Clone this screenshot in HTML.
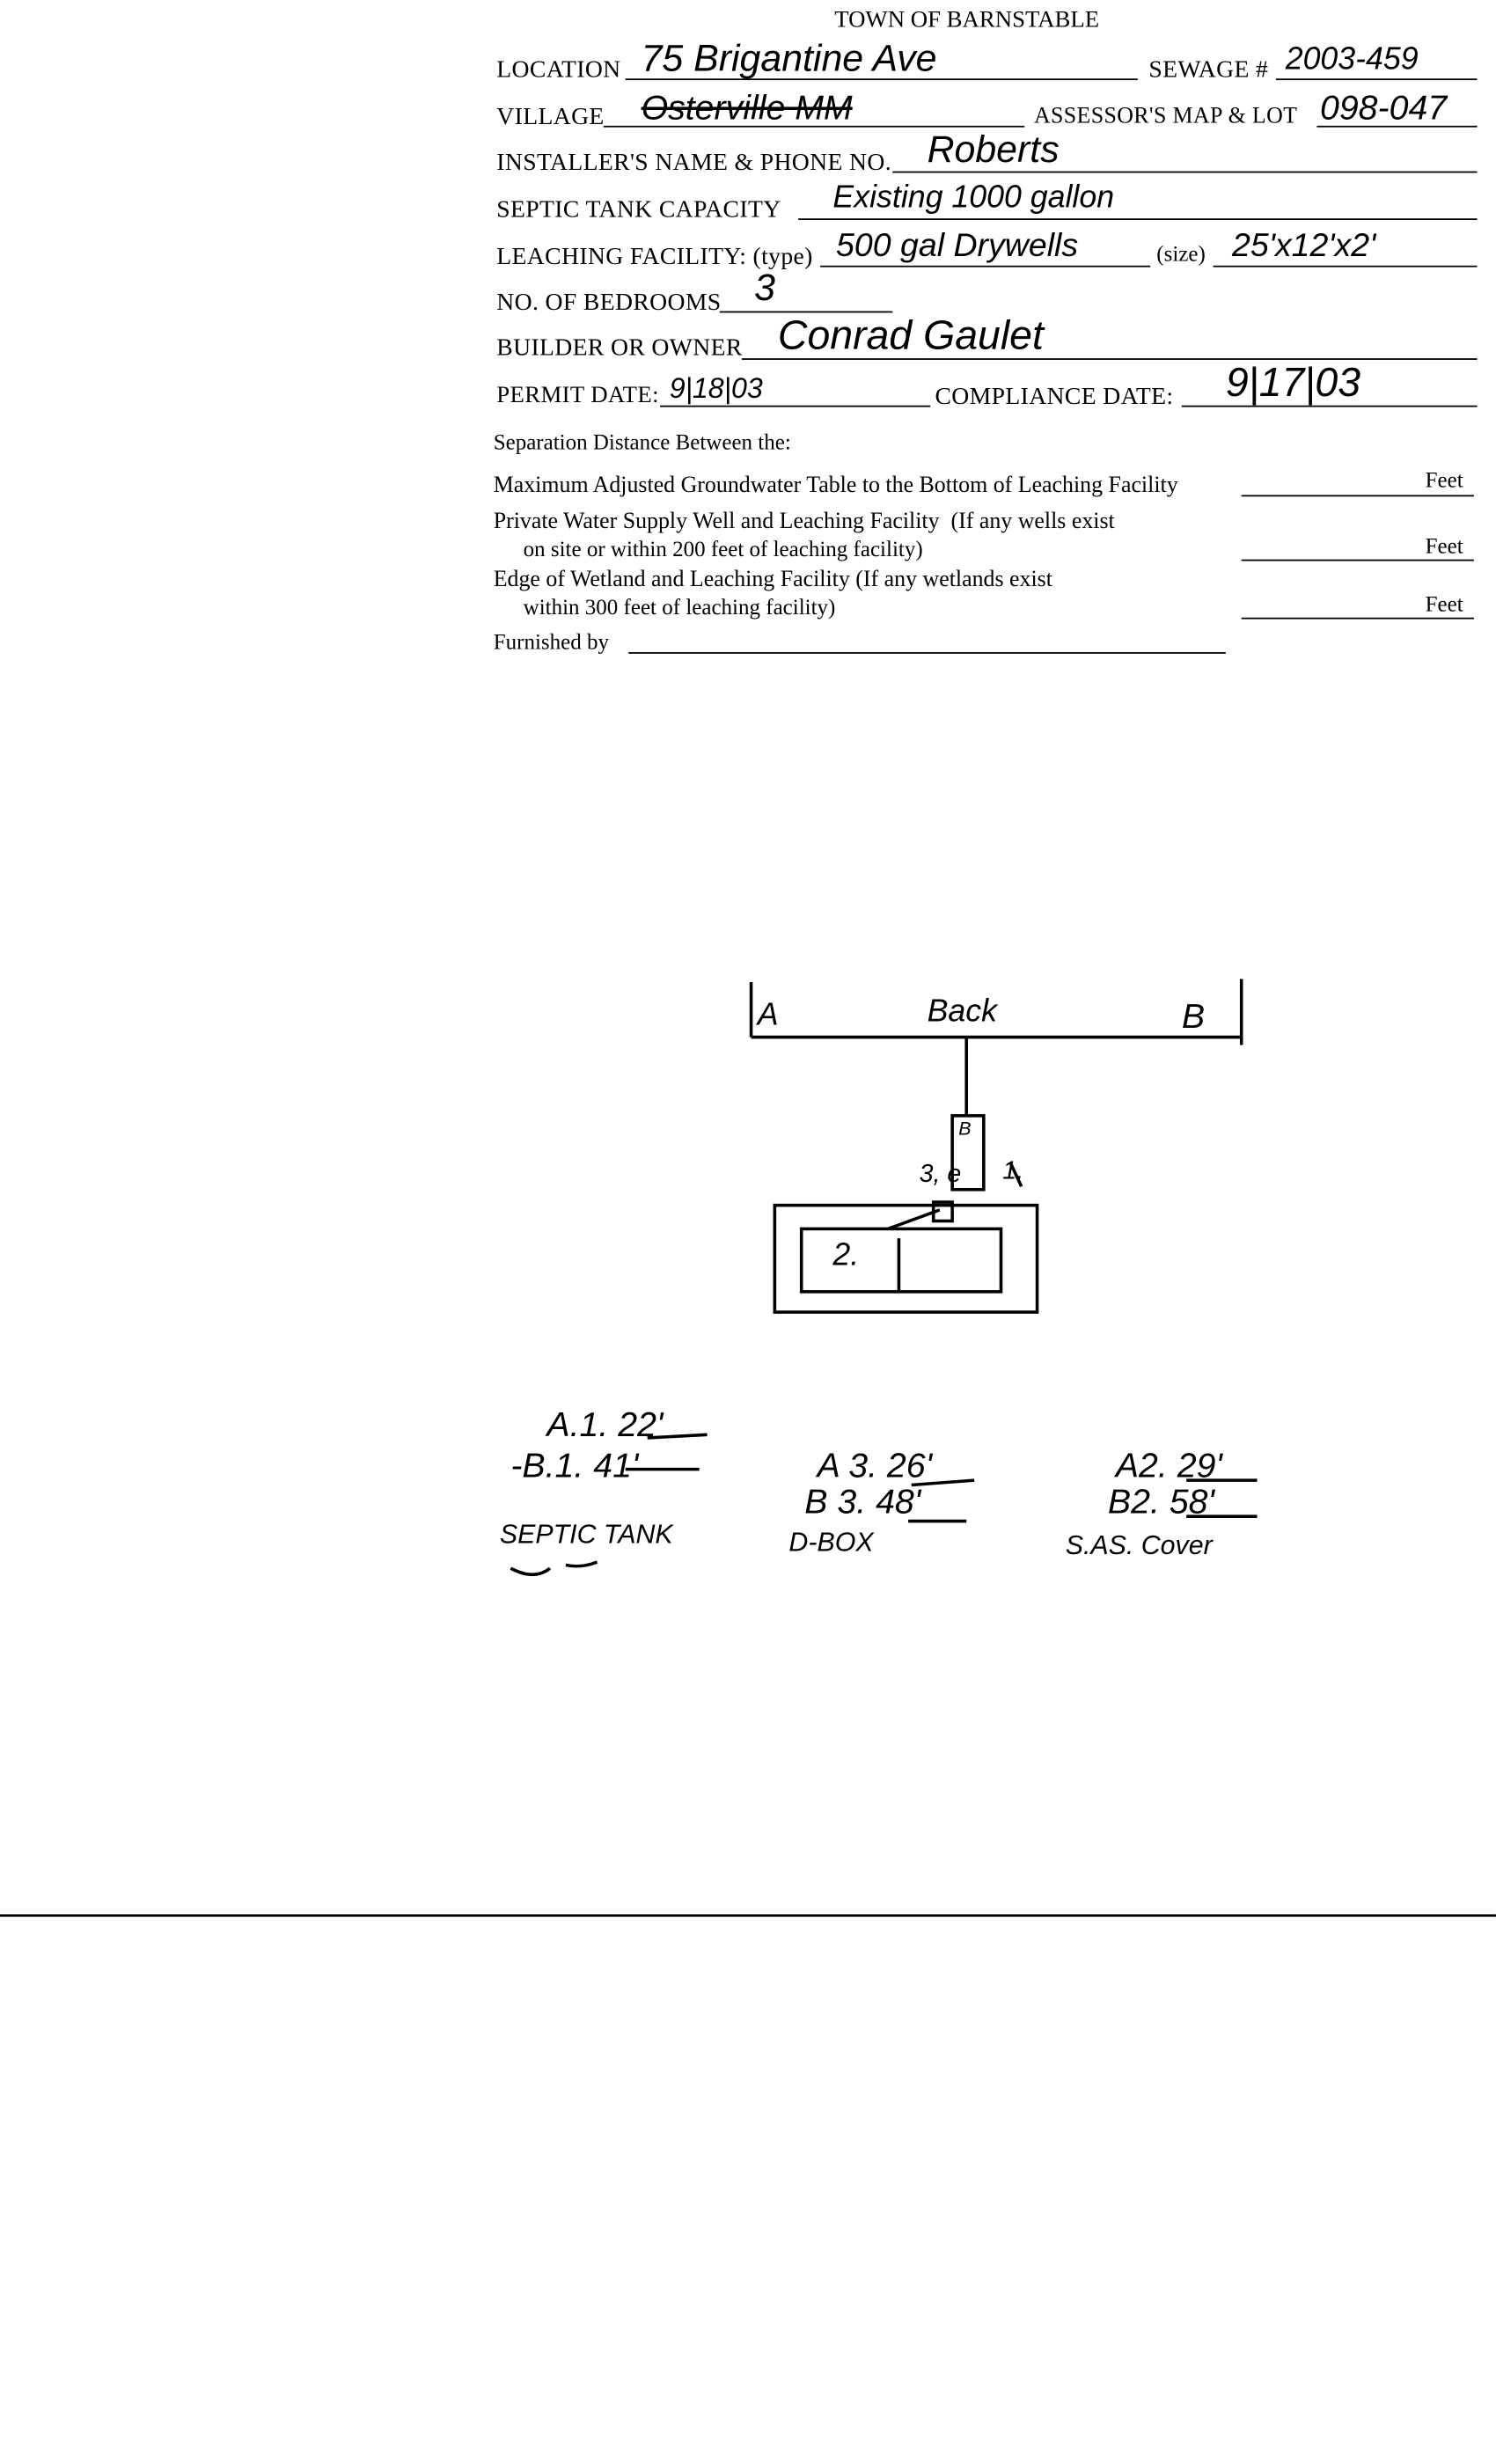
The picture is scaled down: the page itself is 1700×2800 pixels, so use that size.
<!DOCTYPE html>
<html><head><meta charset="utf-8"><style>
html,body{margin:0;padding:0;background:#fff;}
body{width:1700px;height:2800px;overflow:hidden;position:relative;}
#s{position:absolute;left:0;top:0;width:952px;height:1568px;transform:scale(1.7857);transform-origin:0 0;font-family:"Liberation Serif",serif;color:#000;}
.t{position:absolute;font-size:14px;white-space:nowrap;line-height:1;}
.u{font-size:15.5px;letter-spacing:0.2px;}
.l{position:absolute;border-bottom:1px solid #000;height:0;}
.h{position:absolute;font-family:"Liberation Sans",sans-serif;font-style:italic;white-space:nowrap;line-height:1;}
</style></head><body><div id="s">
<div class="t" style="left:531px;top:6px;font-size:15px">TOWN OF BARNSTABLE</div>

<div class="t u" style="left:316px;top:37px">LOCATION</div>
<div class="l" style="left:398px;top:50px;width:326px"></div>
<div class="h" style="left:408px;top:26px;font-size:24px">75 Brigantine Ave</div>
<div class="t u" style="left:731px;top:37px">SEWAGE #</div>
<div class="l" style="left:812px;top:50px;width:128px"></div>
<div class="h" style="left:818px;top:28px;font-size:20px">2003-459</div>

<div class="t u" style="left:316px;top:67px">VILLAGE</div>
<div class="l" style="left:384px;top:80px;width:268px"></div>
<div class="h" style="left:408px;top:58px;font-size:22px;text-decoration:line-through">Osterville MM</div>
<div class="t u" style="left:658px;top:67px;font-size:14.5px">ASSESSOR'S MAP &amp; LOT</div>
<div class="l" style="left:838px;top:80px;width:102px"></div>
<div class="h" style="left:840px;top:58px;font-size:22px">098-047</div>

<div class="t u" style="left:316px;top:96px">INSTALLER'S NAME &amp; PHONE NO.</div>
<div class="l" style="left:568px;top:109px;width:372px"></div>
<div class="h" style="left:590px;top:84px;font-size:24px">Roberts</div>

<div class="t u" style="left:316px;top:126px">SEPTIC TANK CAPACITY</div>
<div class="l" style="left:508px;top:139px;width:432px"></div>
<div class="h" style="left:530px;top:116px;font-size:20px">Existing 1000 gallon</div>

<div class="t u" style="left:316px;top:156px">LEACHING FACILITY: (type)</div>
<div class="l" style="left:522px;top:169px;width:210px"></div>
<div class="h" style="left:532px;top:146px;font-size:21px">500 gal Drywells</div>
<div class="t" style="left:736px;top:156px">(size)</div>
<div class="l" style="left:772px;top:169px;width:168px"></div>
<div class="h" style="left:784px;top:146px;font-size:21px">25'x12'x2'</div>

<div class="t u" style="left:316px;top:185px">NO. OF BEDROOMS</div>
<div class="l" style="left:458px;top:198px;width:110px"></div>
<div class="h" style="left:480px;top:172px;font-size:24px">3</div>

<div class="t u" style="left:316px;top:214px">BUILDER OR OWNER</div>
<div class="l" style="left:472px;top:228px;width:468px"></div>
<div class="h" style="left:495px;top:200px;font-size:26px">Conrad Gaulet</div>

<div class="t u" style="left:316px;top:245px;font-size:15px">PERMIT DATE:</div>
<div class="l" style="left:420px;top:258px;width:172px"></div>
<div class="h" style="left:426px;top:238px;font-size:18px">9|18|03</div>
<div class="t u" style="left:595px;top:245px">COMPLIANCE DATE:</div>
<div class="l" style="left:752px;top:258px;width:188px"></div>
<div class="h" style="left:780px;top:230px;font-size:26px">9|17|03</div>

<div class="t" style="left:314px;top:276px">Separation Distance Between the:</div>
<div class="t" style="left:314px;top:302px;font-size:14.5px">Maximum Adjusted Groundwater Table to the Bottom of Leaching Facility</div>
<div class="l" style="left:790px;top:315px;width:148px"></div>
<div class="t" style="left:907px;top:300px">Feet</div>
<div class="t" style="left:314px;top:325px;font-size:14.5px">Private Water Supply Well and Leaching Facility&nbsp; (If any wells exist</div>
<div class="t" style="left:333px;top:344px">on site or within 200 feet of leaching facility)</div>
<div class="l" style="left:790px;top:356px;width:148px"></div>
<div class="t" style="left:907px;top:342px">Feet</div>
<div class="t" style="left:314px;top:362px;font-size:14.5px">Edge of Wetland and Leaching Facility (If any wetlands exist</div>
<div class="t" style="left:333px;top:381px">within 300 feet of leaching facility)</div>
<div class="l" style="left:790px;top:393px;width:148px"></div>
<div class="t" style="left:907px;top:379px">Feet</div>
<div class="t" style="left:314px;top:403px">Furnished by</div>
<div class="l" style="left:400px;top:415px;width:380px"></div>

<svg style="position:absolute;left:0;top:0" width="952" height="1568">
<g stroke="#000" stroke-width="2" fill="none">
<line x1="478" y1="625" x2="478" y2="660"/>
<line x1="790" y1="623" x2="790" y2="665"/>
<line x1="478" y1="660" x2="790" y2="660"/>
<line x1="615" y1="660" x2="615" y2="710"/>
<rect x="606" y="710" width="20" height="47"/>
<rect x="594" y="765" width="12" height="12"/>
<rect x="493" y="767" width="167" height="68"/>
<rect x="510" y="782" width="127" height="40"/>
<line x1="572" y1="788" x2="572" y2="822"/>
<line x1="565" y1="782" x2="598" y2="770"/>
<line x1="643" y1="740" x2="650" y2="755"/>
<path d="M325 998 q15 8 25 0 M360 996 q10 2 20 -2"/>
<line x1="412" y1="915" x2="450" y2="913"/>
<line x1="398" y1="935" x2="445" y2="935"/>
<line x1="580" y1="945" x2="620" y2="942"/>
<line x1="578" y1="968" x2="615" y2="968"/>
<line x1="755" y1="942" x2="800" y2="942"/>
<line x1="755" y1="965" x2="800" y2="965"/>
</g>
<line x1="0" y1="1219" x2="952" y2="1219" stroke="#000" stroke-width="1.5"/>
</svg>
<div class="h" style="left:482px;top:636px;font-size:20px">A</div>
<div class="h" style="left:590px;top:634px;font-size:20px">Back</div>
<div class="h" style="left:752px;top:636px;font-size:22px">B</div>
<div class="h" style="left:610px;top:712px;font-size:12px">B</div>
<div class="h" style="left:585px;top:740px;font-size:16px">3, e</div>
<div class="h" style="left:638px;top:738px;font-size:16px">1,</div>
<div class="h" style="left:530px;top:789px;font-size:20px">2.</div>

<div class="h" style="left:348px;top:896px;font-size:22px">A.1. 22'</div>
<div class="h" style="left:325px;top:922px;font-size:22px">-B.1. 41'</div>
<div class="h" style="left:318px;top:968px;font-size:17px">SEPTIC TANK</div>
<div class="h" style="left:520px;top:922px;font-size:22px">A 3. 26'</div>
<div class="h" style="left:512px;top:945px;font-size:22px">B 3. 48'</div>
<div class="h" style="left:502px;top:973px;font-size:17px">D-BOX</div>
<div class="h" style="left:710px;top:922px;font-size:22px">A2. 29'</div>
<div class="h" style="left:705px;top:945px;font-size:22px">B2. 58'</div>
<div class="h" style="left:678px;top:975px;font-size:17px">S.AS. Cover</div>
</div></body></html>
